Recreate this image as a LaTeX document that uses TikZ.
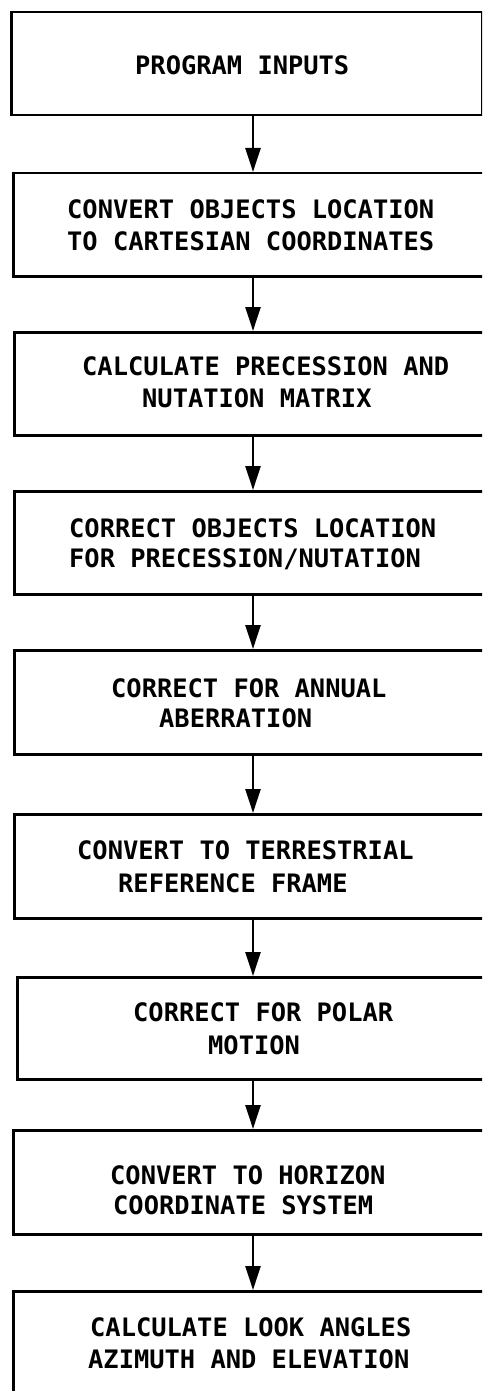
\documentclass[tikz,border=0pt]{standalone}
\usepackage{fontspec}
\newfontfamily\plotfont{DejaVu Sans Mono}[BoldFont={* Bold}]
\usetikzlibrary{arrows.meta}
\begin{document}
\begin{tikzpicture}[x=1pt,y=-1pt,
  stepbox/.style={draw=black,line width=2.5pt,rectangle,inner sep=0pt,anchor=north west},
  lbl/.style={inner sep=0pt,anchor=west,text height=18.5pt,text depth=0pt,font=\plotfont\bfseries\fontsize{25.4}{31}\selectfont},
  arr/.style={line width=2.4pt,-{Triangle[length=24pt,width=15pt]}}]
\useasboundingbox (0,0) rectangle (482,1391);
\fill[white] (0,0) rectangle (482,1391);
\begin{scope}
\clip (0,0) rectangle (482,1391);
\node[stepbox,minimum width=471pt,minimum height=103pt] (b1) at (10,11) {};
\node[stepbox,minimum width=480pt,minimum height=103pt] (b2) at (12,172) {};
\node[stepbox,minimum width=480pt,minimum height=103pt] (b3) at (13,331) {};
\node[stepbox,minimum width=480pt,minimum height=103pt] (b4) at (13,490) {};
\node[stepbox,minimum width=480pt,minimum height=104pt] (b5) at (13,649) {};
\node[stepbox,minimum width=480pt,minimum height=104pt] (b6) at (13,813) {};
\node[stepbox,minimum width=480pt,minimum height=102pt] (b7) at (16,976) {};
\node[stepbox,minimum width=480pt,minimum height=104pt] (b8) at (12,1129) {};
\node[stepbox,minimum width=480pt,minimum height=120pt] (b9) at (12,1290) {};
\end{scope}
\node[lbl] (t1) at (135,65) {PROGRAM INPUTS};
\node[lbl] (t2a) at (67,209) {CONVERT OBJECTS LOCATION};
\node[lbl] (t2b) at (67,241) {TO CARTESIAN COORDINATES};
\node[lbl] (t3a) at (82,366) {CALCULATE PRECESSION AND};
\node[lbl] (t3b) at (142,398) {NUTATION MATRIX};
\node[lbl] (t4a) at (69,528) {CORRECT OBJECTS LOCATION};
\node[lbl] (t4b) at (69,558) {FOR PRECESSION/NUTATION};
\node[lbl] (t5a) at (111,688) {CORRECT FOR ANNUAL};
\node[lbl] (t5b) at (159,718) {ABERRATION};
\node[lbl] (t6a) at (77,850) {CONVERT TO TERRESTRIAL};
\node[lbl] (t6b) at (118,883) {REFERENCE FRAME};
\node[lbl] (t7a) at (133,1012) {CORRECT FOR POLAR};
\node[lbl] (t7b) at (208,1045) {MOTION};
\node[lbl] (t8a) at (110,1175) {CONVERT TO HORIZON};
\node[lbl] (t8b) at (113,1205) {COORDINATE SYSTEM};
\node[lbl] (t9a) at (90,1327) {CALCULATE LOOK ANGLES};
\node[lbl] (t9b) at (88,1359) {AZIMUTH AND ELEVATION};
\coordinate (ax) at (253,0);
\draw[arr] (b1.south -| ax) -- (b2.north -| ax);
\draw[arr] (b2.south -| ax) -- (b3.north -| ax);
\draw[arr] (b3.south -| ax) -- (b4.north -| ax);
\draw[arr] (b4.south -| ax) -- (b5.north -| ax);
\draw[arr] (b5.south -| ax) -- (b6.north -| ax);
\draw[arr] (b6.south -| ax) -- (b7.north -| ax);
\draw[arr] (b7.south -| ax) -- (b8.north -| ax);
\draw[arr] (b8.south -| ax) -- (b9.north -| ax);
\end{tikzpicture}
\end{document}
